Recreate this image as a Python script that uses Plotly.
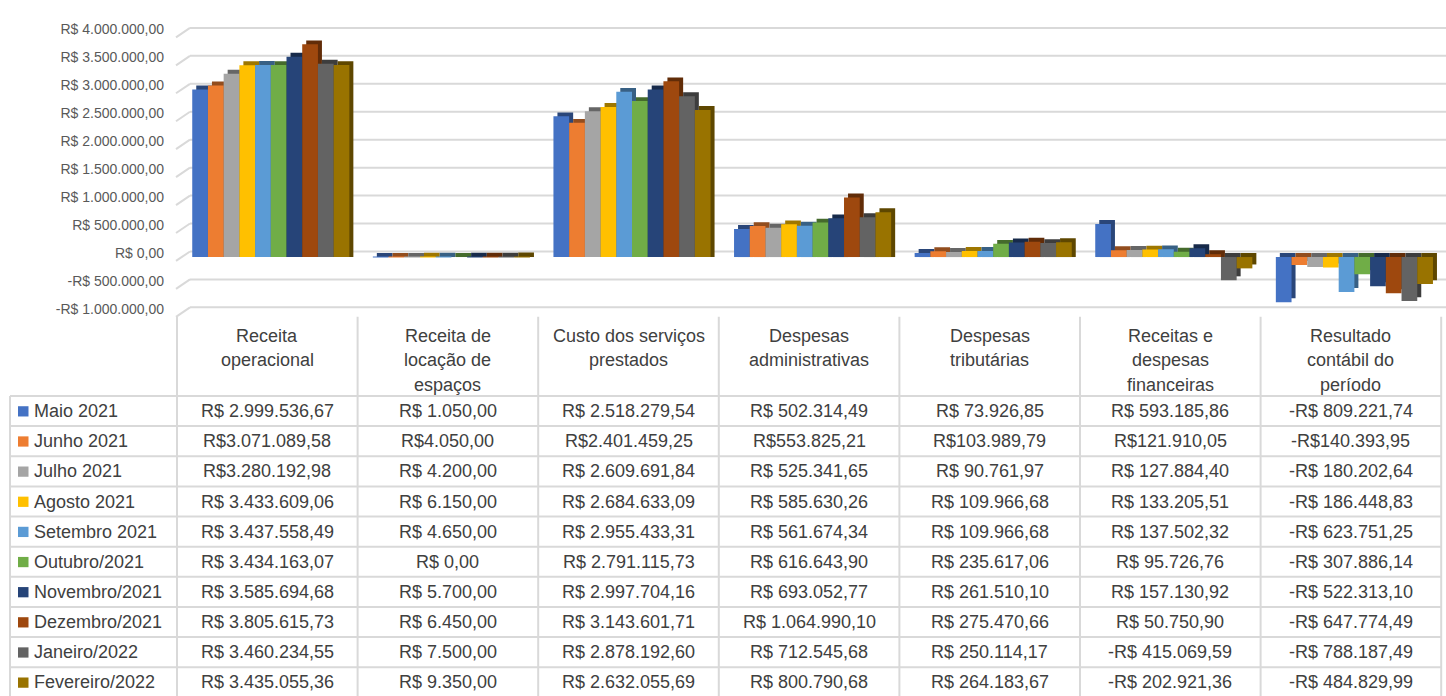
import plotly.graph_objects as go

# ---------------- data ----------------
categories = [
    "Receita operacional",
    "Receita de locação de espaços",
    "Custo dos serviços prestados",
    "Despesas administrativas",
    "Despesas tributárias",
    "Receitas e despesas financeiras",
    "Resultado contábil do período",
]
header_lines = [
    ["Receita", "operacional"],
    ["Receita de", "locação de", "espaços"],
    ["Custo dos serviços", "prestados"],
    ["Despesas", "administrativas"],
    ["Despesas", "tributárias"],
    ["Receitas e", "despesas", "financeiras"],
    ["Resultado", "contábil do", "período"],
]
months = [
    "Maio 2021", "Junho 2021", "Julho 2021", "Agosto 2021", "Setembro 2021",
    "Outubro/2021", "Novembro/2021", "Dezembro/2021", "Janeiro/2022", "Fevereiro/2022",
]
colors = ["#4472C4", "#ED7D31", "#A5A5A5", "#FFC000", "#5B9BD5",
          "#70AD47", "#264478", "#9E480E", "#636363", "#997300"]

maio_2021 = [2999536.67, 1050.00, 2518279.54, 502314.49, 73926.85, 593185.86, -809221.74]
junho_2021 = [3071089.58, 4050.00, 2401459.25, 553825.21, 103989.79, 121910.05, -140393.95]
julho_2021 = [3280192.98, 4200.00, 2609691.84, 525341.65, 90761.97, 127884.40, -180202.64]
agosto_2021 = [3433609.06, 6150.00, 2684633.09, 585630.26, 109966.68, 133205.51, -186448.83]
setembro_2021 = [3437558.49, 4650.00, 2955433.31, 561674.34, 109966.68, 137502.32, -623751.25]
outubro_2021 = [3434163.07, 0.00, 2791115.73, 616643.90, 235617.06, 95726.76, -307886.14]
novembro_2021 = [3585694.68, 5700.00, 2997704.16, 693052.77, 261510.10, 157130.92, -522313.10]
dezembro_2021 = [3805615.73, 6450.00, 3143601.71, 1064990.10, 275470.66, 50750.90, -647774.49]
janeiro_2022 = [3460234.55, 7500.00, 2878192.60, 712545.68, 250114.17, -415069.59, -788187.49]
fevereiro_2022 = [3435055.36, 9350.00, 2632055.69, 800790.68, 264183.67, -202921.36, -484829.99]
series_values = [maio_2021, junho_2021, julho_2021, agosto_2021, setembro_2021,
                 outubro_2021, novembro_2021, dezembro_2021, janeiro_2022, fevereiro_2022]

# table texts exactly as shown
maio_txt = ["R$ 2.999.536,67", "R$ 1.050,00", "R$ 2.518.279,54", "R$ 502.314,49", "R$ 73.926,85", "R$ 593.185,86", "-R$ 809.221,74"]
junho_txt = ["R$3.071.089,58", "R$4.050,00", "R$2.401.459,25", "R$553.825,21", "R$103.989,79", "R$121.910,05", "-R$140.393,95"]
julho_txt = ["R$3.280.192,98", "R$ 4.200,00", "R$ 2.609.691,84", "R$ 525.341,65", "R$ 90.761,97", "R$ 127.884,40", "-R$ 180.202,64"]
agosto_txt = ["R$ 3.433.609,06", "R$ 6.150,00", "R$ 2.684.633,09", "R$ 585.630,26", "R$ 109.966,68", "R$ 133.205,51", "-R$ 186.448,83"]
setembro_txt = ["R$ 3.437.558,49", "R$ 4.650,00", "R$ 2.955.433,31", "R$ 561.674,34", "R$ 109.966,68", "R$ 137.502,32", "-R$ 623.751,25"]
outubro_txt = ["R$ 3.434.163,07", "R$ 0,00", "R$ 2.791.115,73", "R$ 616.643,90", "R$ 235.617,06", "R$ 95.726,76", "-R$ 307.886,14"]
novembro_txt = ["R$ 3.585.694,68", "R$ 5.700,00", "R$ 2.997.704,16", "R$ 693.052,77", "R$ 261.510,10", "R$ 157.130,92", "-R$ 522.313,10"]
dezembro_txt = ["R$ 3.805.615,73", "R$ 6.450,00", "R$ 3.143.601,71", "R$ 1.064.990,10", "R$ 275.470,66", "R$ 50.750,90", "-R$ 647.774,49"]
janeiro_txt = ["R$ 3.460.234,55", "R$ 7.500,00", "R$ 2.878.192,60", "R$ 712.545,68", "R$ 250.114,17", "-R$ 415.069,59", "-R$ 788.187,49"]
fevereiro_txt = ["R$ 3.435.055,36", "R$ 9.350,00", "R$ 2.632.055,69", "R$ 800.790,68", "R$ 264.183,67", "-R$ 202.921,36", "-R$ 484.829,99"]
table_text = [maio_txt, junho_txt, julho_txt, agosto_txt, setembro_txt,
              outubro_txt, novembro_txt, dezembro_txt, janeiro_txt, fevereiro_txt]

y_tickvals = [-1000000, -500000, 0, 500000, 1000000, 1500000, 2000000, 2500000, 3000000, 3500000, 4000000]
y_ticktext = ["-R$ 1.000.000,00", "-R$ 500.000,00", "R$ 0,00", "R$ 500.000,00", "R$ 1.000.000,00",
              "R$ 1.500.000,00", "R$ 2.000.000,00", "R$ 2.500.000,00", "R$ 3.000.000,00",
              "R$ 3.500.000,00", "R$ 4.000.000,00"]

# ---------------- layout geometry (page pixels) ----------------
W, H = 1446, 696
FONT = "Liberation Sans"
GRID = "#D9D9D9"
TXT = "#404040"
col_left = 177.0
col_w = 180.6
tab_left = 10.0
tab_right = col_left + col_w * len(categories)
head_bottom = 393.0
row_h = 30.85
chart_bottom = 308.0
chart_top = 22.0
y_min, y_max = -1000000, 4000000
back_up = 5.7     # back wall gridlines sit above the bar scale (px)
front_down = 4    # front edge of the floor/wall sits below it (px)
wall_front_x, wall_back_x = 176.0, 190.0


def px(x):
    return x / W


def py(y):
    return 1 - y / H


def val_to_pix(v):
    return chart_bottom - (v - y_min) / (y_max - y_min) * (chart_bottom - chart_top)


def darker(hex_color, f=0.62):
    h = hex_color.lstrip("#")
    r, g, b = (int(h[i:i + 2], 16) for i in (0, 2, 4))
    return "rgb(%d,%d,%d)" % (r * f, g * f, b * f)


# 3D-like depth of bars
group_w = 0.87
bar_w = group_w / len(months)
shift = 3.5 / col_w
depth_x = 4.0 / col_w                                        # 4 px in category units
depth_y = 4.0 * (y_max - y_min) / (chart_bottom - chart_top)  # 4 px in value units

fig = go.Figure()
for i, (m, vals, c) in enumerate(zip(months, series_values, colors)):
    off = -group_w / 2 + i * bar_w + shift
    back_base = [0 if v >= 0 else v + depth_y for v in vals]
    back_len = [v + depth_y if v >= 0 else -v for v in vals]
    fig.add_trace(go.Bar(x=categories, y=back_len, base=back_base, name=m + " (profundidade)",
                         offset=off + depth_x, width=bar_w,
                         marker=dict(color=darker(c), line=dict(width=0)),
                         showlegend=False, hoverinfo="skip"))
    fig.add_trace(go.Bar(x=categories, y=vals, name=m, offset=off, width=bar_w,
                         marker=dict(color=c, line=dict(width=0)), showlegend=False))

shapes = []
annotations = []

# gridlines of the 3D wall (back lines + short diagonal to the front edge)
for v in y_tickvals:
    yb = val_to_pix(v) - back_up
    yf = val_to_pix(v) + front_down
    shapes.append(dict(type="line", xref="paper", yref="paper", layer="below",
                       x0=px(wall_back_x), x1=1.0, y0=py(yb), y1=py(yb),
                       line=dict(color=GRID, width=2)))
    shapes.append(dict(type="line", xref="paper", yref="paper", layer="below",
                       x0=px(wall_front_x), x1=px(wall_back_x), y0=py(yf), y1=py(yb),
                       line=dict(color=GRID, width=2)))

bottom_front = val_to_pix(y_min) + front_down
# vertical table lines
for k in range(len(categories) + 1):
    x = col_left + col_w * k
    shapes.append(dict(type="line", xref="paper", yref="paper", x0=px(x), x1=px(x),
                       y0=py(bottom_front), y1=py(H + 5), line=dict(color=GRID, width=2)))
shapes.append(dict(type="line", xref="paper", yref="paper", x0=px(tab_left), x1=px(tab_left),
                   y0=py(head_bottom), y1=py(H + 5), line=dict(color=GRID, width=2)))
# horizontal table lines
for i in range(len(months) + 1):
    y = head_bottom + row_h * i
    shapes.append(dict(type="line", xref="paper", yref="paper", x0=px(tab_left), x1=px(tab_right),
                       y0=py(y), y1=py(y), line=dict(color=GRID, width=2)))

# header texts
for k, lines in enumerate(header_lines):
    xc = col_left + col_w * (k + 0.5)
    for j, ln in enumerate(lines):
        annotations.append(dict(xref="paper", yref="paper", x=px(xc), y=py(331.5 + 25 * j),
                                text=ln, showarrow=False, xanchor="center", yanchor="middle",
                                font=dict(family=FONT, size=18, color=TXT)))

# rows
for i, (m, c, texts) in enumerate(zip(months, colors, table_text)):
    yc = 408.5 + row_h * i
    shapes.append(dict(type="rect", xref="paper", yref="paper", x0=px(18), x1=px(28.5),
                       y0=py(yc - 5), y1=py(yc + 5.5), fillcolor=c, line=dict(width=0)))
    annotations.append(dict(xref="paper", yref="paper", x=px(32), y=py(yc), text=m,
                            showarrow=False, xanchor="left", yanchor="middle",
                            font=dict(family=FONT, size=18, color=TXT)))
    for k, t in enumerate(texts):
        xc = col_left + col_w * (k + 0.5)
        annotations.append(dict(xref="paper", yref="paper", x=px(xc), y=py(yc), text=t,
                                showarrow=False, xanchor="center", yanchor="middle",
                                font=dict(family=FONT, size=18, color=TXT)))

fig.update_layout(
    width=W, height=H, autosize=False,
    margin=dict(l=0, r=0, t=0, b=0),
    paper_bgcolor="white", plot_bgcolor="rgba(0,0,0,0)",
    barmode="overlay",
    shapes=shapes, annotations=annotations,
    xaxis=dict(domain=[px(col_left), min(1.0, px(tab_right))], showticklabels=False, showgrid=False,
               zeroline=False, showline=False, range=[-0.5, len(categories) - 0.5]),
    yaxis=dict(domain=[py(chart_bottom), py(chart_top)], range=[y_min, y_max],
               tickvals=y_tickvals, ticktext=y_ticktext, showgrid=False, zeroline=False,
               ticklabelstandoff=12, ticklabelshift=-front_down,
               tickfont=dict(family=FONT, size=14, color="#595959"), showline=False),
)

fig.write_html("out.html", post_script="document.body.style.margin='0';",
               config={"displayModeBar": False})
